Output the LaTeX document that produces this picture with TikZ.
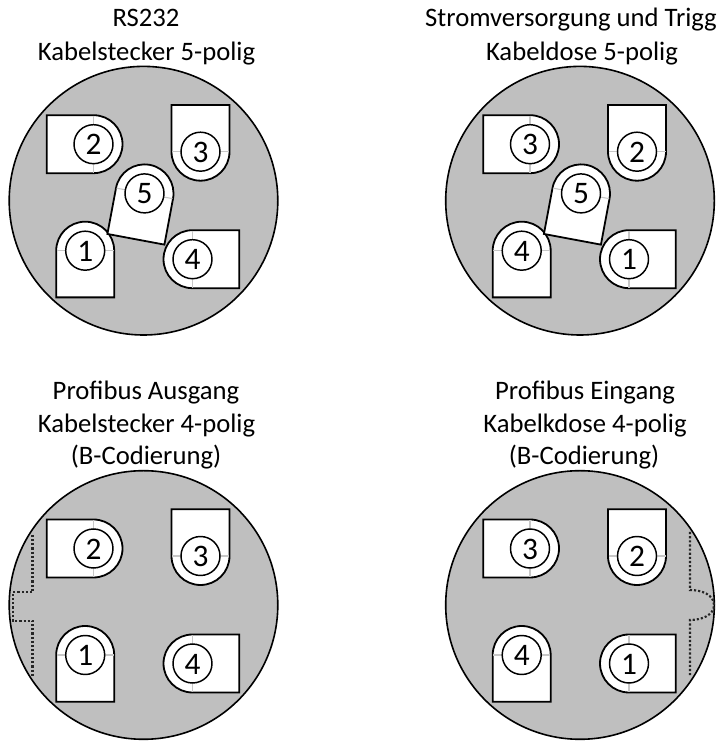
\documentclass[tikz,border=0pt]{standalone}
\usepackage{fontspec}
\setmainfont{Carlito}
\definecolor{bodygray}{RGB}{191,191,191}
\tikzset{
  x=0.75pt,y=0.75pt,
  shell/.style={draw=black,fill=bodygray,line width=1.2pt},
  pinbody/.style={draw=black,fill=white,line width=1.35pt,line join=miter},
  pinring/.style={draw=black,line width=1.1pt},
  tick/.style={draw=black!22,line width=0.8pt},
  notch/.style={draw=black!85,line width=1.6pt,dash pattern=on 1.6pt off 1.5pt},
  title/.style={font=\fontsize{20}{24}\selectfont,inner sep=0pt,anchor=base},
  pinnum/.style={font=\fontsize{23.5}{28}\selectfont,inner sep=0pt,anchor=center}
}
\newcommand{\pinat}[5]{%
  \begin{scope}[shift={(#2,#3)}]
    \begin{scope}[rotate=#4]
      \draw[pinbody] (-29,0) arc[start angle=180,end angle=0,radius=29] -- (29,-46.7) -- (-29,-46.7) -- cycle;
      \draw[tick] (-28.5,0) -- (-19.5,0) (28.5,0) -- (19.5,0);
      \draw[pinring] (0,0) circle[radius=19.5];
    \end{scope}
    \node[pinnum] (#1) at (0,-0.5) {#5};
  \end{scope}}
\begin{document}
\begin{tikzpicture}
\useasboundingbox (0,0) rectangle (718,741);
% titles
\node[title] (t1a) at (146,714) {RS232};
\node[title] (t1b) at (146.5,680) {Kabelstecker 5-polig};
\node[title] (t2a) at (571,714) {Stromversorgung und Trigg};
\node[title] (t2b) at (582,680) {Kabeldose 5-polig};
\node[title] (t3a) at (146,341) {Profibus Ausgang};
\node[title] (t3b) at (146.5,308) {Kabelstecker 4-polig};
\node[title] (t3c) at (146,276) {(B-Codierung)};
\node[title] (t4a) at (585,341) {Profibus Eingang};
\node[title] (t4b) at (585,308) {Kabelkdose 4-polig};
\node[title] (t4c) at (584,276) {(B-Codierung)};
% top left
\begin{scope}[shift={(143.5,540.3)}]
  \draw[shell] (0,0) coordinate (c1) circle[radius=134.3];
  \pinat{a2}{-50}{56.5}{-90}{2}
  \pinat{a3}{57}{49}{180}{3}
  \pinat{a1}{-58.3}{-50}{0}{1}
  \pinat{a4}{49}{-58.5}{90}{4}
  \pinat{a5}{1}{7.3}{-10.6}{5}
\end{scope}
% top right
\begin{scope}[shift={(580,540.3)}]
  \draw[shell] (0,0) coordinate (c2) circle[radius=134.3];
  \pinat{b3}{-50}{56.5}{-90}{3}
  \pinat{b2}{57}{49}{180}{2}
  \pinat{b4}{-58.3}{-50}{0}{4}
  \pinat{b1}{49}{-58.5}{90}{1}
  \pinat{b5}{1}{7.3}{-10.6}{5}
\end{scope}
% bottom left
\begin{scope}[shift={(143.5,136)}]
  \draw[shell] (0,0) coordinate (c3) circle[radius=134.3];
  \pinat{d2}{-50}{56.5}{-90}{2}
  \pinat{d3}{57}{49}{180}{3}
  \pinat{d1}{-58.3}{-50}{0}{1}
  \pinat{d4}{49}{-58.5}{90}{4}
  \draw[notch] (-111,70) -- (-111,12.7) -- (-130.5,12.7) -- (-130.5,-15.7) -- (-111,-15.7) -- (-111,-72);
\end{scope}
% bottom right
\begin{scope}[shift={(580,136)}]
  \draw[shell] (0,0) coordinate (c4) circle[radius=134.3];
  \pinat{e3}{-50}{56.5}{-90}{3}
  \pinat{e2}{57}{49}{180}{2}
  \pinat{e4}{-58.3}{-50}{0}{4}
  \pinat{e1}{49}{-58.5}{90}{1}
  \draw[notch] (110,73) -- (110,15) .. controls (122,15) and (134,10) .. (134,0) .. controls (134,-10) and (122,-15) .. (110,-15) -- (110,-72);
\end{scope}
\end{tikzpicture}
\end{document}
